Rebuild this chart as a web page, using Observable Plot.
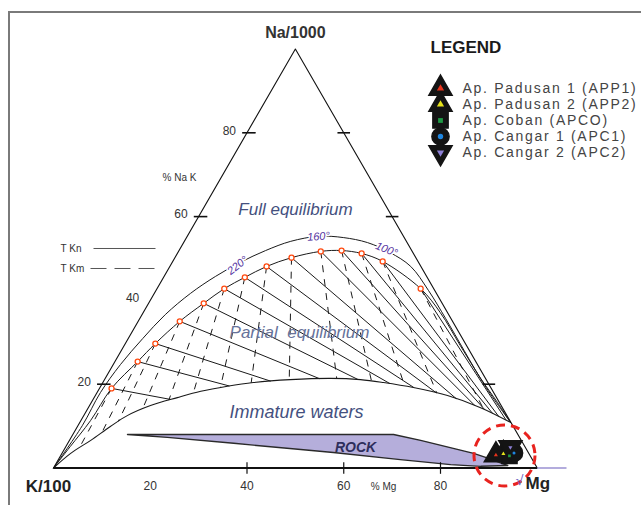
<!DOCTYPE html>
<html>
<head>
<meta charset="utf-8">
<script src="https://cdn.jsdelivr.net/npm/d3@7"></script>
<script src="https://cdn.jsdelivr.net/npm/@observablehq/plot@0.6"></script>
<style>
html,body{margin:0;padding:0;background:#fff;}
#wrap{position:relative;width:641px;height:505px;overflow:hidden;}
#border{position:absolute;left:8px;top:11px;width:700px;height:600px;border-left:2px solid #7a7a7a;border-top:2px solid #7a7a7a;pointer-events:none;}
</style>
</head>
<body>
<div id="wrap"><div id="chart"></div><div id="border"></div></div>
<script>
// ---------- data (ternary: [Na %, Mg %]; K % = 100 - Na - Mg) ----------
const cornerLabels = ["Na/1000", "K/100", "Mg"];
const axisTicks = [20, 40, 60, 80];
const baseTickMarks = [40, 60, 80];
const leftTickMarks = [20, 60, 80];
const rightTickMarks = [20, 60, 80];
const regionLabels = ["Full equilibrium", "Partial  equilibrium", "Immature waters", "ROCK"];
const tempLabels = ["220°", "160°", "100°"];

// temperature points on the full-equilibrium line
const fullEqPoints = [
  [19.0, 2.5], [25.4, 4.7], [29.7, 6.2], [35.0, 8.6], [39.3, 11.4], [42.8, 13.9], [45.5, 16.8],
  [48.1, 20.0], [50.2, 24.1], [51.7, 29.4], [51.9, 33.6], [51.2, 38.1], [49.3, 43.4], [42.8, 54.5]
];
const fullEqStart = [[0, 0], [5.1, 0.9], [11.3, 2.0]];
const fullEqEnd = [[37.1, 61.4], [29.2, 69.5], [21.4, 77.6], [15.6, 84.0], [10.9, 89.0]];

const upperArc = [
  [0, 0], [10.1, 0.9], [18.0, 0.7], [24.7, 1.5], [30.9, 3.0], [36.6, 4.8], [41.7, 7.5], [45.7, 10.6],
  [49.1, 14.1], [51.9, 17.9], [54.1, 22.0], [55.3, 27.2], [55.0, 32.4], [53.8, 38.0], [51.4, 43.9],
  [48.1, 49.8], [42.4, 56.3], [35.7, 63.2], [28.0, 70.9], [19.7, 79.3], [10.9, 89.0]
];

const immatureCurve = [
  [0, 0], [3.5, 1.8], [6.6, 4.4], [9.9, 6.8], [12.5, 9.0], [14.9, 12.6], [16.8, 17.2], [18.3, 21.3],
  [19.5, 26.2], [20.4, 31.1], [21.1, 38.4], [21.4, 46.6], [21.1, 52.9], [20.4, 58.0], [19.2, 64.8],
  [17.3, 72.8], [14.4, 81.1], [10.9, 89.0]
];

const rockOutline = [
  [8.0, 11.3], [8.0, 66.3], [6.6, 72.6], [3.5, 85.1], [2.3, 88.8], [0.6, 93.6],
  [0.4, 88.1], [0.8, 81.7], [2.0, 70.7], [3.7, 56.0], [4.4, 48.9], [5.9, 34.3], [7.3, 19.9], [8.0, 11.3]
];

const sampleCodes = ["APP1", "APP2", "APCO", "APC1", "APC2"];
const sampleNames = ["Ap. Padusan 1 (APP1)", "Ap. Padusan 2 (APP2)", "Ap. Coban (APCO)", "Ap. Cangar 1 (APC1)", "Ap. Cangar 2 (APC2)"];
const sampleNa = [3.1, 3.4, 2.9, 3.6, 4.9];
const sampleMg = [89.9, 91.3, 92.8, 93.4, 92.0];

// ---------- geometry helpers ----------
const SQ = Math.sqrt(3) / 2;
const toXY = ([na, mg]) => ({x: mg + na / 2, y: na * SQ});
const PX = px => (px - 53) / 4.8375;   // layout helpers for annotations
const PY = py => (467.5 - py) / 4.838;

const triangle = [[0, 0], [0, 100], [100, 0], [0, 0]].map(toXY);
const eqPts = fullEqPoints.map(toXY);
const eqCurve = [...fullEqStart, ...fullEqPoints, ...fullEqEnd].map(toXY);
const arc = upperArc.map(toXY);
const imm = immatureCurve.map(toXY);
const rock = rockOutline.map(toXY);
const MgV = {x: 100, y: 0}, NaV = {x: 50, y: 100 * SQ};

function firstHit(P, d, poly) {
  let best = Infinity;
  for (let i = 0; i < poly.length - 1; i++) {
    const a = poly[i], b = poly[i + 1];
    const ex = b.x - a.x, ey = b.y - a.y;
    const den = d.x * ey - d.y * ex;
    if (Math.abs(den) < 1e-12) continue;
    const wx = a.x - P.x, wy = a.y - P.y;
    const t = (wx * ey - wy * ex) / den;
    const s = (wx * d.y - wy * d.x) / den;
    if (t > 1e-6 && s >= 0 && s <= 1 && t < best) best = t;
  }
  return best;
}
const tknLines = [], tkmLines = [];
for (const P of eqPts) {
  const d1 = {x: MgV.x - P.x, y: MgV.y - P.y};
  const t1 = firstHit(P, d1, imm);
  if (isFinite(t1)) tknLines.push({x1: P.x, y1: P.y, x2: P.x + t1 * d1.x, y2: P.y + t1 * d1.y});
  const d2 = {x: P.x - NaV.x, y: P.y - NaV.y};
  const t2 = firstHit(P, d2, imm);
  if (isFinite(t2)) tkmLines.push({x1: P.x, y1: P.y, x2: P.x + t2 * d2.x, y2: P.y + t2 * d2.y});
}

const samples = sampleCodes.map((code, i) => ({code, name: sampleNames[i], ...toXY([sampleNa[i], sampleMg[i]])}));
const legendRows = samples.map((s, i) => ({...s, lx: PX(440), ly: PY(88 + 16 * i), tx: PX(462)}));

const triangleDown = {
  draw(ctx, size) {
    const y = -Math.sqrt(size / (Math.sqrt(3) * 3));
    ctx.moveTo(0, -y * 2);
    ctx.lineTo(-Math.sqrt(3) * y, y);
    ctx.lineTo(Math.sqrt(3) * y, y);
    ctx.closePath();
  }
};

const SANS = "Liberation Sans, Arial, sans-serif";

const chart = Plot.plot({
  width: 641,
  height: 505,
  marginLeft: 53,
  marginRight: 104.25,
  marginTop: 48.5,
  marginBottom: 37.5,
  x: {domain: [0, 100], axis: null},
  y: {domain: [0, 100 * SQ], axis: null},
  symbol: {domain: sampleCodes, range: ["triangle", "triangle", "square", "circle", triangleDown]},
  color: {domain: sampleCodes, range: ["#e8341c", "#e6e21a", "#1f9a45", "#1e86e0", "#8d80d6"]},
  style: {fontFamily: SANS, background: "white"},
  marks: [
    // curves
    Plot.line(arc, {x: "x", y: "y", stroke: "#1a1a1a", strokeWidth: 1, curve: "catmull-rom"}),
    Plot.line(eqCurve, {x: "x", y: "y", stroke: "#1a1a1a", strokeWidth: 1, curve: "catmull-rom"}),
    Plot.line(imm, {x: "x", y: "y", stroke: "#1a1a1a", strokeWidth: 1.1, curve: "catmull-rom"}),
    Plot.link(tknLines, {x1: "x1", y1: "y1", x2: "x2", y2: "y2", stroke: "#1a1a1a", strokeWidth: 1}),
    Plot.link(tkmLines, {x1: "x1", y1: "y1", x2: "x2", y2: "y2", stroke: "#1a1a1a", strokeWidth: 1, strokeDasharray: "7,7"}),
    // rock field
    Plot.line(rock, {x: "x", y: "y", fill: "#b5aedb", stroke: "#2a2a2a", strokeWidth: 1.4}),
    // triangle
    Plot.line(triangle, {x: "x", y: "y", stroke: "#111", strokeWidth: 1.1}),
    Plot.link([0], {x1: 0, y1: 0, x2: 100, y2: 0, stroke: "#111", strokeWidth: 2}),
    Plot.link([0], {x1: 100, y1: 0, x2: PX(566), y2: 0, stroke: "#9a90d2", strokeWidth: 1.5}),
    // ticks
    Plot.link(baseTickMarks, {x1: d => d, x2: d => d, y1: -1.2, y2: 1.2, stroke: "#111", strokeWidth: 1.2}),
    Plot.link(leftTickMarks, {x1: d => d / 2 - 1.0, x2: d => d / 2 + 1.8, y1: d => d * SQ, y2: d => d * SQ, stroke: "#111", strokeWidth: 1.6}),
    Plot.link(rightTickMarks, {x1: d => 100 - d / 2 - 1.3, x2: d => 100 - d / 2 + 1.3, y1: d => d * SQ, y2: d => d * SQ, stroke: "#111", strokeWidth: 1.6}),
    // full-equilibrium temperature points
    Plot.dot(eqPts, {x: "x", y: "y", r: 2.5, fill: "white", stroke: "#ff4a10", strokeWidth: 1.3}),
    // samples
    Plot.dot(samples, {x: "x", y: "y", symbol: "code", r: 8.6, fill: "#141414", stroke: "#141414"}),
    Plot.dot(samples, {x: "x", y: "y", symbol: "code", r: 1.5, fill: "code"}),
    Plot.dot([0], {x: PX(504), y: PY(455), r: 30.5, fill: "none", stroke: "#e8231f", strokeWidth: 3, strokeDasharray: "9,6", ariaLabel: "highlight"}),
    // legend
    Plot.text(["LEGEND"], {x: PX(430), y: PY(47), text: d => d, textAnchor: "start", fontSize: 17, fontWeight: "bold", fill: "#1a1a1a"}),
    Plot.dot(legendRows, {x: "lx", y: "ly", symbol: "code", r: 8.6, fill: "#141414", stroke: "#141414"}),
    Plot.dot(legendRows, {x: "lx", y: "ly", symbol: "code", r: 2.7, fill: "code"}),
    Plot.text(legendRows, {x: "tx", y: "ly", text: "name", textAnchor: "start", fontSize: 14, fill: "#444", ariaLabel: "legend-names"}),
    // corner labels
    Plot.text([cornerLabels[0]], {x: 50, y: PY(32), text: d => d, fontSize: 16, fontWeight: "bold", fill: "#333"}),
    Plot.text([cornerLabels[1]], {x: PX(48), y: PY(486), text: d => d, fontSize: 17, fontWeight: "bold", fill: "#222"}),
    Plot.text([cornerLabels[2]], {x: PX(525), y: PY(483), text: d => d, textAnchor: "start", fontSize: 17, fontWeight: "bold", fill: "#222"}),
    Plot.text(["√"], {x: PX(519), y: PY(480), text: d => d, fontSize: 14, fill: "#6b5fc0"}),
    // axis labels
    Plot.text(axisTicks, {x: d => d, y: PY(486), text: d => String(d), fontSize: 12, fill: "#333"}),
    Plot.text(axisTicks, {x: d => d / 2, y: d => d * SQ, text: d => String(d), dx: -11, dy: -2, textAnchor: "end", fontSize: 12, fill: "#333"}),
    Plot.text(["% Na K"], {x: PX(179), y: PY(177), text: d => d, fontSize: 10, fill: "#333"}),
    Plot.text(["% Mg"], {x: PX(383), y: PY(486), text: d => d, fontSize: 10, fill: "#333"}),
    // TKn / TKm key
    Plot.text(["T Kn"], {x: PX(60), y: PY(248), text: d => d, textAnchor: "start", fontSize: 10, fill: "#333"}),
    Plot.text(["T Km"], {x: PX(60), y: PY(268), text: d => d, textAnchor: "start", fontSize: 10, fill: "#333"}),
    Plot.link([0], {x1: PX(93), x2: PX(155), y1: PY(248), y2: PY(248), stroke: "#555", strokeWidth: 1}),
    Plot.link([0], {x1: PX(90), x2: PX(155), y1: PY(268), y2: PY(268), stroke: "#555", strokeWidth: 1, strokeDasharray: "16,8"}),
    // region labels
    Plot.text([regionLabels[0]], {x: PX(295), y: PY(209), text: d => d, fontSize: 17, fontStyle: "italic", fill: "#44507e"}),
    Plot.text([regionLabels[1]], {x: PX(299), y: PY(332), text: d => d, fontSize: 17, fontStyle: "italic", fill: "#66729a"}),
    Plot.text([regionLabels[2]], {x: PX(296), y: PY(412), text: d => d, fontSize: 18, fontStyle: "italic", fill: "#44507e"}),
    Plot.text([regionLabels[3]], {x: PX(355), y: PY(447), text: d => d, fontSize: 14, fontStyle: "italic", fontWeight: "bold", fill: "#2e2e5c"}),
    // temperature labels on the equilibrium arc
    Plot.text([tempLabels[0]], {x: PX(237), y: PY(265), text: d => d, rotate: -38, fontSize: 11, fontStyle: "italic", fill: "#5533a0", stroke: "white", strokeWidth: 3}),
    Plot.text([tempLabels[1]], {x: PX(318), y: PY(236), text: d => d, rotate: -4, fontSize: 11, fontStyle: "italic", fill: "#5533a0", stroke: "white", strokeWidth: 3}),
    Plot.text([tempLabels[2]], {x: PX(386), y: PY(249), text: d => d, rotate: 22, fontSize: 11, fontStyle: "italic", fill: "#5533a0", stroke: "white", strokeWidth: 3})
  ]
});
document.getElementById("chart").appendChild(chart);

// post-styling: legend letter spacing, stretched highlight ellipse
chart.querySelectorAll("text").forEach(t => {
  if (sampleNames.includes(t.textContent)) {
    t.setAttribute("letter-spacing", "1.7");
    t.style.letterSpacing = "1.7px";
  }
});
const hc = chart.querySelector('g[aria-label="highlight"] circle');
if (hc) {
  const cx = +hc.getAttribute("cx"), cy = +hc.getAttribute("cy");
  if (isFinite(cx) && isFinite(cy)) {
    hc.setAttribute("transform", `translate(${cx},${cy}) scale(1.11,0.89) translate(${-cx},${-cy})`);
    hc.setAttribute("vector-effect", "non-scaling-stroke");
  }
}
</script>
</body>
</html>
